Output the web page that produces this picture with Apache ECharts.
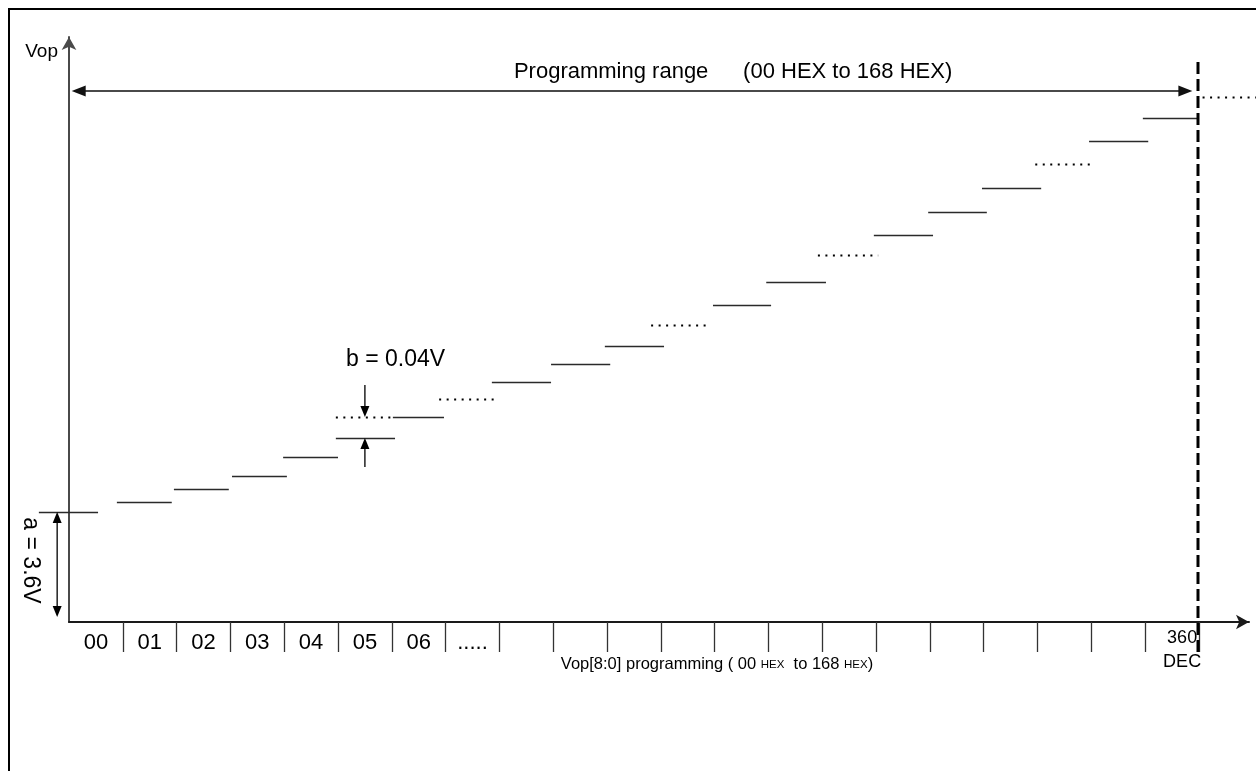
<!DOCTYPE html>
<html><head><meta charset="utf-8">
<script src="https://cdn.jsdelivr.net/npm/echarts@6/dist/echarts.min.js"></script>
<style>html,body{margin:0;padding:0;background:#fff}#c{width:1256px;height:771px}</style>
</head><body><div id="c"></div>
<script>
// ---- data (x in programming-code cells, y in relative Vop level units) ----
const cellLabels = ['00', '01', '02', '03', '04', '05', '06', '.....'];
const endCodeLabel = ['360', 'DEC'];
const endCell = 21;               // last code cell (360 DEC), dashed limit
const stepStart = [-0.56, 0.89, 1.95, 3.03, 3.98, 4.96, 6.02, 6.88, 7.86, 8.96, 9.96, 10.82, 11.97, 12.96, 13.92, 14.96, 15.97, 16.97, 17.96, 18.96, 19.96, 21.07];
const stepEnd   = [0.54, 1.91, 2.97, 4.05, 5.0, 6.06, 6.97, 7.97, 8.96, 10.06, 11.06, 11.93, 13.05, 14.07, 15.04, 16.06, 17.06, 18.07, 19.07, 20.06, 21.0, 22.06];
const stepLevel = [110, 120, 133, 146, 165, 184, 205, 223, 240, 258, 276, 297, 317, 340, 367, 387, 410, 434, 458, 481, 504, 525];
const stepElided = [0, 0, 0, 0, 0, 0, 0, 1, 0, 0, 0, 1, 0, 0, 1, 0, 0, 0, 1, 0, 0, 1];
const leadIn = [4.96, 6.02];      // dotted lead-in to step 06 level
const rangeLevel = 531;           // "Programming range" arrow level
const yMax = 585;
const xMax = 21.933;
const rangeTitle = 'Programming range';
const rangeNote = '(00 HEX to 168 HEX)';
const bNote = 'b = 0.04V';
const aNote = 'a = 3.6V';
const yName = 'Vop';

const FONT = '"Liberation Sans", Arial, Helvetica, sans-serif';

// build step rows
const stepRows = stepStart.map((s, i) => [s, stepEnd[i], stepLevel[i], stepElided[i]]);
stepRows.push([leadIn[0], leadIn[1], stepLevel[6], 1]);

const ticks = [];
for (let i = 1; i <= endCell; i++) ticks.push(i);
const labelPos = cellLabels.map((_, i) => i + 0.5);
const endLabelPos = endCell - 0.31;
labelPos.push(endLabelPos);

function renderStep(params, api) {
  const p0 = api.coord([api.value(0), api.value(2)]);
  const p1 = api.coord([api.value(1), api.value(2)]);
  const dotted = api.value(3) === 1;
  const y = Math.round(p0[1]) + 0.5;
  return {
    type: 'line',
    shape: { x1: p0[0], y1: y, x2: p1[0], y2: y },
    style: dotted
      ? { stroke: '#000', lineWidth: 2, lineDash: [2, 5.5] }
      : { stroke: '#2a2a2a', lineWidth: 1.3 }
  };
}

function makeArrowRenderer(opts) {
  return function (params, api) {
    const a = api.coord([api.value(0), api.value(1)]);
    const b = api.coord([api.value(2), api.value(3)]);
    const hs = api.value(4) === 1, he = api.value(5) === 1;
    const dx = b[0] - a[0], dy = b[1] - a[1];
    const len = Math.sqrt(dx * dx + dy * dy) || 1;
    const ux = dx / len, uy = dy / len, nx = -uy, ny = ux;
    const L = opts.headLen, W = opts.headW / 2;
    const children = [];
    const s0 = hs ? [a[0] + ux * L * 0.8, a[1] + uy * L * 0.8] : a;
    const s1 = he ? [b[0] - ux * L * 0.8, b[1] - uy * L * 0.8] : b;
    children.push({ type: 'line', shape: { x1: s0[0], y1: s0[1], x2: s1[0], y2: s1[1] },
      style: { stroke: opts.color, lineWidth: opts.width } });
    function head(tip, sx, sy) {
      const bx = tip[0] - sx * L, by = tip[1] - sy * L;
      children.push({ type: 'polygon', shape: { points: [tip, [bx + nx * W, by + ny * W], [bx - nx * W, by - ny * W]] },
        style: { fill: opts.headColor } });
    }
    if (he) head(b, ux, uy);
    if (hs) head(a, -ux, -uy);
    return { type: 'group', children };
  };
}

const bigArrows = [[0.05, rangeLevel, endCell - 0.12, rangeLevel, 1, 1]];
const smallArrows = [
  [-0.22, 5, -0.22, stepLevel[0], 1, 1],
  [5.5, stepLevel[6] + 32, 5.5, stepLevel[6], 0, 1],
  [5.5, stepLevel[5] - 29, 5.5, stepLevel[5], 0, 1]
];
const limitLine = [[endCell - 0.015, -30, endCell - 0.015, 561]];

// annotation texts: [x, y, text index]
const noteTexts = [rangeTitle, rangeNote, bNote, aNote];
const noteRows = [
  [8.27, 550, 0],
  [12.53, 550, 1],
  [5.15, stepLevel[6] + 57, 2],
  [-0.725, (5 + stepLevel[0]) / 2 + 4, 3]
];
const noteFont = [22, 22, 23, 23];
const noteAlign = ['left', 'left', 'left', 'center'];
const noteRot = [0, 0, 0, -Math.PI / 2];

function renderNote(params, api) {
  const p = api.coord([api.value(0), api.value(1)]);
  const i = api.value(2);
  return {
    type: 'text', x: p[0], y: p[1], rotation: noteRot[i],
    style: { text: noteTexts[i], fill: '#000', font: noteFont[i] + 'px ' + FONT, align: noteAlign[i], verticalAlign: 'middle' }
  };
}

const chart = echarts.init(document.getElementById('c'), null, { renderer: 'canvas' });
chart.setOption({
  animation: false,
  backgroundColor: '#fff',
  textStyle: { fontFamily: FONT },
  grid: { left: 69, top: 37, width: 1180, height: 585, containLabel: false },
  xAxis: {
    type: 'value', min: 0, max: xMax, interval: 1,
    splitLine: { show: false },
    axisLine: { show: true, symbol: ['none', 'arrow'], symbolSize: [11, 13], lineStyle: { color: '#1a1a1a', width: 2 } },
    axisTick: { show: true, customValues: ticks, length: 30, inside: false, lineStyle: { color: '#333', width: 1.3 } },
    axisLabel: {
      show: true, customValues: labelPos, margin: 10, color: '#000', fontFamily: FONT, fontSize: 22, lineHeight: 22,
      formatter: function (v) {
        if (Math.abs(v - endLabelPos) < 1e-6) return '{n|' + endCodeLabel[0] + '}\n{d|' + endCodeLabel[1] + '}';
        const i = Math.round(v - 0.5);
        return cellLabels[i] || '';
      },
      rich: {
        n: { fontSize: 18, lineHeight: 12, fontFamily: FONT, color: '#000' },
        d: { fontSize: 18, lineHeight: 36, fontFamily: FONT, color: '#000' }
      }
    },
    name: '{n|Vop[8:0] programming ( 00 }{s|HEX}{n|  to 168 }{s|HEX}{n|)}',
    nameLocation: 'middle', nameGap: 34, nameMoveOverlap: false,
    nameTextStyle: {
      padding: [0, 0, 0, 116],
      rich: {
        n: { fontSize: 16.5, fontFamily: FONT, color: '#000' },
        s: { fontSize: 11.5, fontFamily: FONT, color: '#000' }
      }
    }
  },
  yAxis: {
    type: 'value', min: 0, max: yMax,
    splitLine: { show: false }, axisTick: { show: false }, axisLabel: { show: false },
    axisLine: { show: true, symbol: ['none', 'arrow'], symbolSize: [11, 13], lineStyle: { color: '#4a4a4a', width: 2 } },
    name: yName, nameLocation: 'end', nameGap: -5,
    nameTextStyle: { align: 'right', verticalAlign: 'top', padding: [0, 11, 0, 0], fontSize: 19, color: '#000', fontFamily: FONT }
  },
  graphic: [{
    type: 'rect', shape: { x: 9, y: 9, width: 1300, height: 800 },
    style: { fill: 'none', stroke: '#000', lineWidth: 2 }, silent: true
  }],
  series: [
    { type: 'custom', name: 'steps', renderItem: renderStep, data: stepRows, encode: { x: [0, 1], y: 2 }, silent: true, clip: false },
    { type: 'custom', name: 'range', renderItem: makeArrowRenderer({ color: '#4a4a4a', width: 2, headLen: 14, headW: 11, headColor: '#111' }),
      data: bigArrows, encode: { x: [0, 2], y: [1, 3] }, silent: true },
    { type: 'custom', name: 'dims', renderItem: makeArrowRenderer({ color: '#111', width: 1.4, headLen: 11, headW: 9, headColor: '#000' }),
      data: smallArrows, encode: { x: [0, 2], y: [1, 3] }, silent: true },
    { type: 'custom', name: 'limit', renderItem: function (params, api) {
        const a = api.coord([api.value(0), api.value(1)]);
        const b = api.coord([api.value(2), api.value(3)]);
        return { type: 'line', shape: { x1: a[0], y1: a[1], x2: b[0], y2: b[1] },
          style: { stroke: '#000', lineWidth: 3, lineDash: [12, 5] } };
      }, data: limitLine, encode: { x: [0, 2], y: [1, 3] }, silent: true, z: 5 },
    { type: 'custom', name: 'notes', renderItem: renderNote, data: noteRows, encode: { x: 0, y: 1 }, silent: true, clip: false }
  ]
});
</script>
</body></html>
